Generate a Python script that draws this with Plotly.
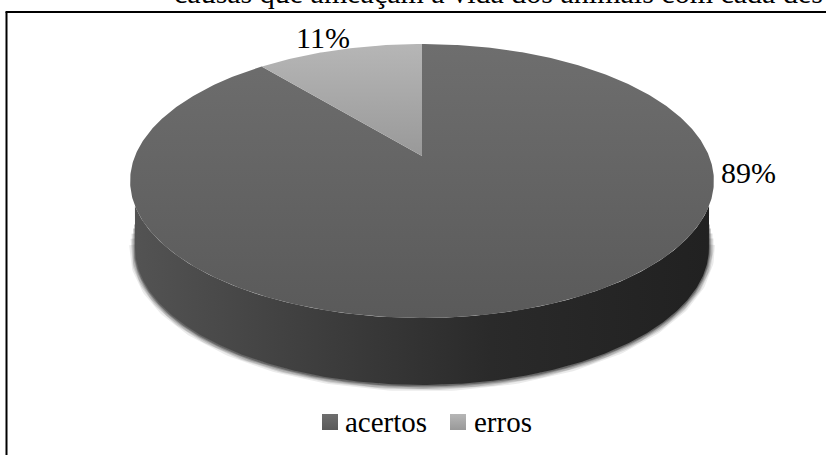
import numpy as np
import plotly.graph_objects as go

# Survey result drawn as a tilted disc
categories = ["acertos", "erros"]
values = [89, 11]
title_fragment = "causas que ameaçam a vida dos animais com cada des"

# Disc projection, in page pixels
APEX_X, APEX_Y = 422.0, 156.0
WIDTH, HEIGHT = 287.0, 132.4
TILT = 0.1825
DEPTH = 67.0
BASE_SCALE = 0.983    # the far end of the rim looks slightly narrower
RIM_START_Y = 205.0   # where the rim leaves the top face's outline
SERIF = "Liberation Serif"


def project(theta):
    # theta runs clockwise from the back of the disc
    u, v = np.sin(theta), np.cos(theta)
    d = 1 + TILT * v
    return APEX_X + WIDTH * u / d, APEX_Y - HEIGHT * v / d


def sector(share_start, share_end):
    steps = max(int(abs(share_end - share_start) * 6), 12)
    t = np.linspace(share_start, share_end, steps) / 100 * 2 * np.pi
    x, y = project(t)
    return np.r_[APEX_X, x, APEX_X], np.r_[APEX_Y, y, APEX_Y]


fig = go.Figure()

# Lower outline of the top face and the matching outline of the base
limit = np.arccos(-TILT)
t_arc = np.linspace(2 * np.pi - limit, limit, 300)
arc_x, arc_y = project(t_arc)
base_x = APEX_X + (arc_x - APEX_X) * BASE_SCALE
base_y = arc_y + DEPTH

# Soft shadow: stacked strokes, the wider ones stopping lower on the sides
for width, alpha, rise in [(12, 0.08, 4), (9, 0.11, 10), (7, 0.14, 15), (4, 0.2, 20), (2, 0.28, 24)]:
    sx = np.r_[base_x[0], base_x, base_x[-1]]
    sy = np.r_[base_y[0] - rise, base_y, base_y[-1] - rise]
    fig.add_trace(go.Scatter(
        x=sx, y=sy + 0.5, mode="lines",
        line=dict(color=f"rgba(0,0,0,{alpha})", width=width),
        hoverinfo="skip", showlegend=False,
    ))

# Rim
keep = arc_y >= RIM_START_Y
fig.add_trace(go.Scatter(
    x=np.r_[base_x, arc_x[keep][::-1]],
    y=np.r_[base_y, arc_y[keep][::-1]],
    mode="lines", line=dict(width=0), fill="toself",
    fillgradient=dict(
        type="horizontal",
        colorscale=[[0, "#535353"], [0.3, "#3f3f3f"], [0.62, "#2a2a2a"], [1, "#212121"]],
    ),
    hoverinfo="skip", showlegend=False,
))

# Top face
gradients = [
    ["#5a5a5a", "#6e6e6e"],
    ["#999999", "#b6b6b6"],
]
start = 0
for name, value, colors in zip(categories, values, gradients):
    sx, sy = sector(start, start + value)
    fig.add_trace(go.Scatter(
        x=sx, y=sy, mode="lines", line=dict(width=0), fill="toself",
        fillgradient=dict(type="vertical", colorscale=[[0, colors[0]], [1, colors[1]]]),
        name=name, showlegend=False, hoverinfo="skip",
    ))
    start += value

# Hand-placed key, since the built-in legend cannot keep the swatch this close to its text
key_x = [330, 458]
key_text_x = [344, 473]
key_y = 422
for name, x0, colors in zip(categories, key_x, gradients):
    fig.add_trace(go.Scatter(
        x=[x0], y=[key_y], mode="markers",
        marker=dict(symbol="square", size=16, color=colors[1],
                    gradient=dict(type="vertical", color=colors[0]), line=dict(width=0)),
        hoverinfo="skip", showlegend=False,
    ))

annotations = [
    dict(x=173, y=10, text=title_fragment, xanchor="left", yanchor="bottom", size=30),
    dict(x=748, y=172, text=f"{values[0]}%", xanchor="center", yanchor="middle", size=30),
    dict(x=323, y=37, text=f"{values[1]}%", xanchor="center", yanchor="middle", size=30),
]
for name, x0 in zip(categories, key_text_x):
    annotations.append(dict(x=x0, y=key_y, text=name, xanchor="left", yanchor="middle"))
for a in annotations:
    size = a.pop("size", 29)
    a.update(showarrow=False, xref="x", yref="y", borderpad=0,
             font=dict(family=SERIF, size=size, color="#000000"))

axis = dict(visible=False, fixedrange=True)
fig.update_layout(
    width=826, height=455,
    margin=dict(l=0, r=0, t=0, b=0),
    paper_bgcolor="white", plot_bgcolor="white",
    xaxis=dict(range=[0, 826], **axis),
    yaxis=dict(range=[455, 0], **axis),
    annotations=annotations,
    shapes=[
        dict(type="line", x0=6.5, x1=6.5, y0=12, y1=455, line=dict(color="black", width=2)),
        dict(type="line", x0=5.5, x1=826, y0=12, y1=12, line=dict(color="black", width=2)),
    ],
    showlegend=False,
)

fig.write_html("out.html", config=dict(displayModeBar=False))
